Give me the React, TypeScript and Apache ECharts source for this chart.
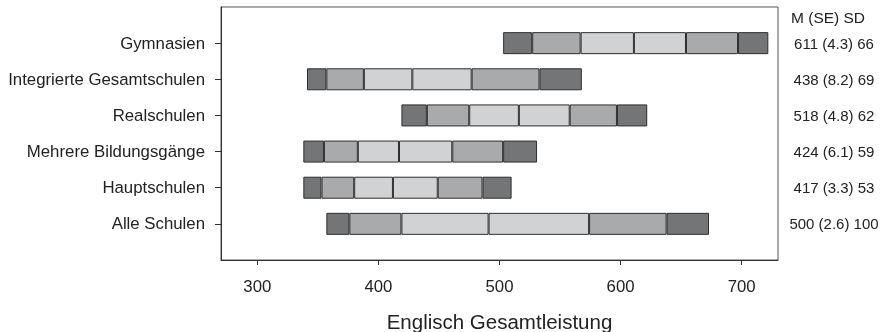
import React, { useEffect, useRef } from "react";
import * as echarts from "echarts";

// Rows from top to bottom as drawn
const schools = [
  "Gymnasien",
  "Integrierte Gesamtschulen",
  "Realschulen",
  "Mehrere Bildungsgänge",
  "Hauptschulen",
  "Alle Schulen",
];
const stats = [
  "611 (4.3) 66",
  "438 (8.2) 69",
  "518 (4.8) 62",
  "424 (6.1) 59",
  "417 (3.3) 53",
  "500 (2.6) 100",
];
// Percentile band edges
const p5 = [503, 341, 419, 338, 338, 357];
const p10 = [527, 357, 440, 355, 353, 376];
const p25 = [567, 388, 475, 383, 380, 419];
const pMid = [611, 428, 516, 417, 412, 491];
const p75 = [654, 477, 558, 461, 449, 574];
const p90 = [697, 533, 597, 503, 486, 638];
const p95 = [722, 568, 622, 531, 510, 673];

const xTicks = [300, 400, 500, 600, 700];
const xMin = 270;
const xMax = 730;
const statsHeader = "M (SE) SD";
const xTitle = "Englisch Gesamtleistung";

const FONT = "'Liberation Sans', Arial, Helvetica, sans-serif";
const DARK = "#747576";
const MID = "#a9aaab";
const LIGHT = "#d1d2d4";
const EDGE = "#2e2e2e";

export default function App() {
  const ref = useRef<HTMLDivElement>(null);
  useEffect(() => {
    if (!ref.current) return;
    const chart = echarts.init(ref.current, undefined, { renderer: "svg" });
    // bottom-to-top order with padding slots at both ends
    const order = [...schools.keys()].reverse();
    const cats = ["", ...order.map((i) => schools[i]), ""];
    const statCats = ["", ...order.map((i) => stats[i]), ""];
    const col = (f: (i: number) => number) => [null, ...order.map(f), null];

    const segs: { data: (number | null)[]; color: string }[] = [
      { data: col((i) => p5[i]), color: "transparent" },
      { data: col((i) => p10[i] - p5[i]), color: DARK },
      { data: col((i) => p25[i] - p10[i]), color: MID },
      { data: col((i) => pMid[i] - p25[i]), color: LIGHT },
      { data: col((i) => p75[i] - pMid[i]), color: LIGHT },
      { data: col((i) => p90[i] - p75[i]), color: MID },
      { data: col((i) => p95[i] - p90[i]), color: DARK },
    ];

    const tickFilter = (idx: number) => idx > 0 && idx < cats.length - 1;

    chart.setOption({
      animation: false,
      grid: {
        left: 221,
        right: 103,
        top: 7,
        bottom: 72,
        containLabel: false,
        outerBoundsMode: "none",
        show: true,
        borderColor: "#555",
        borderWidth: 1,
        backgroundColor: "#fff",
      },
      xAxis: {
        type: "value",
        min: xMin,
        max: xMax,
        splitLine: { show: false },
        axisLine: { show: true, lineStyle: { color: "#333", width: 1 } },
        axisTick: {
          show: true,
          length: 5,
          customValues: xTicks,
          lineStyle: { color: "#333" },
        },
        axisLabel: {
          customValues: xTicks,
          margin: 18,
          fontSize: 16.8,
          color: "#222",
          fontFamily: FONT,
        },
        name: xTitle,
        nameLocation: "middle",
        nameGap: 51,
        nameTextStyle: { fontSize: 20.5, color: "#222", fontFamily: FONT },
      },
      yAxis: [
        {
          type: "category",
          data: cats,
          boundaryGap: false,
          axisLine: { show: true, lineStyle: { color: "#333", width: 1 } },
          axisTick: {
            show: true,
            length: 6,
            interval: tickFilter,
            lineStyle: { color: "#333" },
          },
          axisLabel: {
            interval: tickFilter,
            margin: 16,
            fontSize: 16.8,
            color: "#222",
            fontFamily: FONT,
          },
          splitLine: { show: false },
        },
        {
          type: "category",
          data: statCats,
          boundaryGap: false,
          position: "right",
          axisLine: { show: false },
          axisTick: { show: false },
          axisLabel: {
            interval: tickFilter,
            margin: 56,
            align: "center",
            fontSize: 15,
            color: "#222",
            fontFamily: FONT,
          },
          splitLine: { show: false },
        },
      ],
      graphic: [
        {
          type: "text",
          left: 791,
          top: 9,
          style: {
            text: statsHeader,
            fontSize: 15.5,
            fill: "#222",
            fontFamily: FONT,
          },
        },
      ],
      series: segs.map((s, k) => ({
        type: "bar",
        stack: "pct",
        barWidth: 22,
        data: s.data,
        silent: true,
        itemStyle: {
          color: s.color,
          borderColor: k === 0 ? "transparent" : EDGE,
          borderWidth: k === 0 ? 0 : 1,
          borderRadius: 0,
        },
      })),
    });
    return () => chart.dispose();
  }, []);
  return (
    <div
      ref={ref}
      style={{ position: "fixed", left: 0, top: 0, width: 881, height: 332 }}
    />
  );
}
